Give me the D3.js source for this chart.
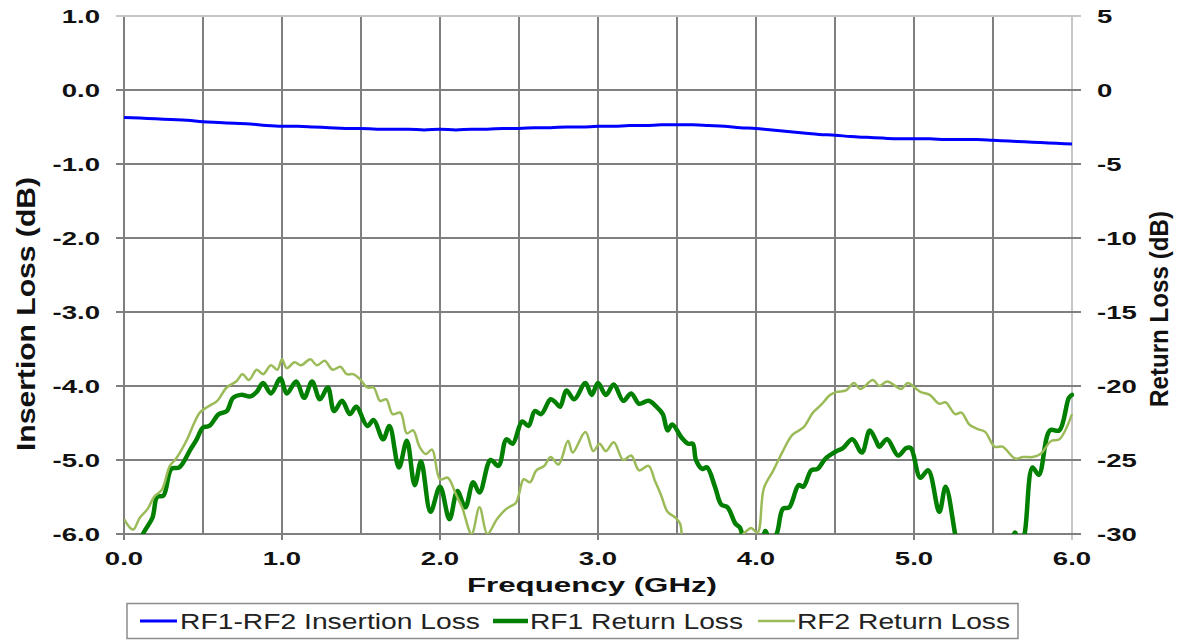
<!DOCTYPE html>
<html>
<head>
<meta charset="utf-8">
<script src="https://cdn.jsdelivr.net/npm/d3@7"></script>
<style>
  html, body { margin: 0; padding: 0; background: #fff; }
  svg { display: block; }
</style>
</head>
<body>
<svg id="chart" width="1193" height="641"></svg>
<script>
// ---------------- DATA ----------------
const leftTicks = [-6, -5, -4, -3, -2, -1, 0, 1];
const rightTicks = [-30, -25, -20, -15, -10, -5, 0, 5];
const xTicks = [0, 1, 2, 3, 4, 5, 6];
const xGrid = [0, 0.5, 1, 1.5, 2, 2.5, 3, 3.5, 4, 4.5, 5, 5.5, 6];

const seriesNames = ["RF1-RF2 Insertion Loss", "RF1 Return Loss", "RF2 Return Loss"];

// Insertion loss (left axis, dB), frequency in GHz
const ilFreq = [0.0,0.1,0.2,0.3,0.4,0.5,0.6,0.7,0.8,0.9,1.0,1.1,1.2,1.3,1.4,1.5,1.6,1.7,1.8,1.9,
  2.0,2.1,2.2,2.3,2.4,2.5,2.6,2.7,2.8,2.9,3.0,3.1,3.2,3.3,3.4,3.5,3.6,3.7,3.8,3.9,
  4.0,4.1,4.2,4.3,4.4,4.5,4.6,4.7,4.8,4.9,5.0,5.1,5.2,5.3,5.4,5.5,5.6,5.7,5.8,5.9,6.0];
const ilValues = [-0.37,-0.38,-0.39,-0.40,-0.41,-0.43,-0.44,-0.45,-0.46,-0.48,-0.49,-0.49,-0.50,-0.51,-0.52,-0.52,-0.53,-0.53,-0.53,-0.54,
  -0.53,-0.54,-0.53,-0.53,-0.52,-0.52,-0.51,-0.51,-0.50,-0.50,-0.49,-0.49,-0.48,-0.48,-0.47,-0.47,-0.47,-0.48,-0.49,-0.51,
  -0.52,-0.54,-0.56,-0.58,-0.60,-0.61,-0.63,-0.64,-0.65,-0.66,-0.66,-0.66,-0.67,-0.67,-0.67,-0.68,-0.69,-0.70,-0.71,-0.72,-0.73];

// RF1 return loss (right axis, dB): [GHz, dB]
const rf1Points = [
  [0.00,-33],[0.06,-32],[0.12,-30.0],[0.18,-28.9],[0.21,-27.5],[0.25,-27.4],[0.30,-25.6],[0.35,-25.5],
  [0.42,-24.3],[0.46,-23.6],[0.50,-22.8],[0.54,-22.7],[0.60,-21.9],[0.65,-21.7],[0.69,-20.8],[0.74,-20.6],
  [0.80,-20.7],[0.84,-20.4],[0.88,-19.8],[0.93,-20.5],[0.99,-19.5],[1.03,-20.5],[1.09,-19.7],[1.14,-20.8],
  [1.19,-19.7],[1.24,-20.9],[1.29,-20.1],[1.33,-21.7],[1.38,-21.0],[1.43,-21.9],[1.47,-21.4],[1.54,-22.7],
  [1.58,-22.3],[1.64,-23.6],[1.68,-22.7],[1.74,-25.5],[1.79,-23.7],[1.84,-26.7],[1.88,-25.1],[1.94,-28.5],
  [2.00,-26.8],[2.06,-29.0],[2.11,-27.1],[2.16,-28.2],[2.21,-26.5],[2.25,-27.2],[2.32,-25.0],[2.37,-25.4],
  [2.42,-23.6],[2.46,-23.9],[2.52,-22.4],[2.56,-22.7],[2.60,-21.7],[2.64,-21.9],[2.70,-20.9],[2.73,-21.1],
  [2.76,-21.4],[2.80,-20.3],[2.85,-20.9],[2.92,-19.8],[2.96,-20.6],[3.00,-19.8],[3.05,-20.6],[3.10,-19.9],
  [3.16,-21.0],[3.21,-20.5],[3.26,-21.2],[3.32,-21.0],[3.37,-21.4],[3.41,-21.9],[3.44,-23.0],[3.47,-22.6],
  [3.53,-23.5],[3.57,-23.9],[3.60,-23.9],[3.62,-25.0],[3.66,-25.6],[3.69,-25.5],[3.74,-26.8],[3.78,-28.0],
  [3.82,-28.2],[3.87,-29.3],[3.90,-29.6],[3.93,-31.0],[3.98,-32.0],[4.03,-31.0],[4.06,-29.8],[4.09,-30.5],
  [4.13,-30.0],[4.17,-28.3],[4.21,-28.2],[4.27,-26.7],[4.30,-26.8],[4.35,-25.7],[4.39,-25.6],[4.44,-24.9],
  [4.51,-24.4],[4.55,-24.2],[4.61,-23.6],[4.67,-24.5],[4.72,-23.0],[4.76,-23.7],[4.78,-24.1],[4.83,-23.6],
  [4.90,-24.7],[4.95,-24.2],[4.98,-24.2],[5.04,-26.2],[5.09,-25.7],[5.16,-28.5],[5.20,-26.8],[5.26,-30.0],
  [5.30,-32.5],[5.45,-34.0],[5.60,-31.5],[5.64,-29.9],[5.67,-31.0],[5.70,-30.0],[5.75,-25.5],[5.79,-26.0],
  [5.86,-23.0],[5.92,-23.0],[5.98,-20.8],[6.00,-20.6]
];

// RF2 return loss (right axis, dB): [GHz, dB]
const rf2Points = [
  [0.00,-29.0],[0.04,-29.6],[0.06,-29.7],[0.10,-28.9],[0.15,-28.3],[0.19,-27.5],[0.24,-27.0],[0.29,-25.4],
  [0.33,-24.9],[0.40,-23.6],[0.44,-22.6],[0.48,-21.8],[0.53,-21.4],[0.59,-21.0],[0.65,-20.1],[0.71,-19.7],
  [0.75,-19.2],[0.79,-19.6],[0.84,-18.9],[0.88,-19.2],[0.93,-18.6],[0.97,-18.9],[1.00,-18.2],[1.03,-18.8],
  [1.08,-18.4],[1.12,-18.6],[1.18,-18.2],[1.22,-18.6],[1.27,-18.3],[1.32,-18.9],[1.37,-18.7],[1.41,-19.2],
  [1.45,-19.2],[1.49,-19.5],[1.54,-20.1],[1.58,-20.1],[1.62,-21.0],[1.66,-20.9],[1.70,-21.9],[1.75,-21.8],
  [1.79,-23.2],[1.83,-23.0],[1.87,-24.1],[1.91,-24.6],[1.95,-24.3],[2.00,-26.3],[2.05,-26.2],[2.10,-27.3],
  [2.14,-28.2],[2.20,-30.0],[2.25,-28.2],[2.30,-30.0],[2.36,-29.0],[2.42,-28.3],[2.48,-27.9],[2.50,-27.3],
  [2.53,-26.3],[2.57,-26.5],[2.61,-25.7],[2.66,-25.4],[2.70,-24.8],[2.75,-25.3],[2.81,-23.7],[2.84,-24.5],
  [2.92,-23.1],[2.97,-24.4],[3.01,-23.9],[3.05,-24.4],[3.10,-23.8],[3.16,-25.0],[3.21,-24.7],[3.26,-25.7],
  [3.32,-25.4],[3.36,-26.4],[3.40,-27.4],[3.44,-28.5],[3.49,-28.9],[3.52,-29.3],[3.53,-30.0],[3.56,-31.5],
  [3.75,-33.0],[3.88,-31.0],[3.92,-30.0],[3.94,-29.8],[3.97,-29.6],[4.01,-29.9],[4.05,-26.9],[4.11,-25.7],
  [4.17,-24.4],[4.23,-23.3],[4.30,-22.8],[4.36,-21.8],[4.41,-21.3],[4.47,-20.6],[4.51,-20.4],[4.57,-20.3],
  [4.62,-19.8],[4.66,-20.2],[4.74,-19.6],[4.78,-20.0],[4.83,-19.7],[4.92,-20.2],[4.96,-19.8],[5.04,-20.4],
  [5.10,-20.6],[5.16,-21.2],[5.20,-21.1],[5.26,-21.9],[5.30,-21.8],[5.35,-22.6],[5.40,-22.9],[5.45,-23.1],
  [5.51,-24.1],[5.56,-24.1],[5.64,-24.9],[5.69,-24.8],[5.75,-24.8],[5.80,-24.6],[5.87,-23.7],[5.92,-23.6],
  [6.00,-21.9]
];

// ---------------- CHART ----------------
const FONT = "Arial, 'Liberation Sans', Helvetica, sans-serif";
const colors = { il: "#0000ff", rf1: "#007f00", rf2: "#9bbb59", grid: "#7f7f7f", lightGrid: "#c6c6c6" };

const svg = d3.select("#chart");
const plot = { left: 124, right: 1072, top: 16, bottom: 534 };

const x = d3.scaleLinear().domain([0, 6]).range([plot.left, plot.right]);
const yL = d3.scaleLinear().domain([-6, 1]).range([plot.bottom, plot.top]);
const yR = d3.scaleLinear().domain([-30, 5]).range([plot.bottom, plot.top]);

svg.append("rect").attr("width", 1193).attr("height", 641).attr("fill", "#fff");

// Grid: vertical lines
const gGrid = svg.append("g");
gGrid.selectAll("line.v").data(xGrid).join("line")
  .attr("x1", d => x(d)).attr("x2", d => x(d))
  .attr("y1", plot.top)
  .attr("y2", d => Number.isInteger(d) ? plot.bottom + 6 : plot.bottom)
  .attr("stroke", d => d === 6 ? colors.lightGrid : colors.grid)
  .attr("stroke-width", 2);

// Grid: horizontal lines (with outward ticks both sides)
gGrid.selectAll("line.h").data(leftTicks).join("line")
  .attr("x1", plot.left - 8).attr("x2", plot.right + 9)
  .attr("y1", d => yL(d)).attr("y2", d => yL(d))
  .attr("stroke", d => d === 1 ? colors.lightGrid : colors.grid)
  .attr("stroke-width", 2);

// Axes labels via scales
const fmtL = d => d.toFixed(1);
const TICK_FS = 19, TICK_SX = 1.45;

const gLeft = svg.append("g");
gLeft.selectAll("text").data(leftTicks).join("text")
  .attr("transform", d => `translate(${plot.left - 24},${yL(d) + 7}) scale(${TICK_SX},1)`)
  .attr("text-anchor", "end")
  .attr("font-family", FONT).attr("font-weight", "bold").attr("font-size", TICK_FS)
  .attr("fill", "#111")
  .text(fmtL);

const gRight = svg.append("g");
gRight.selectAll("text").data(rightTicks).join("text")
  .attr("transform", d => `translate(${plot.right + 25},${yR(d) + 7}) scale(${TICK_SX},1)`)
  .attr("text-anchor", "start")
  .attr("font-family", FONT).attr("font-weight", "bold").attr("font-size", TICK_FS)
  .attr("fill", "#111")
  .text(d => String(d));

const gBottom = svg.append("g");
gBottom.selectAll("text").data(xTicks).join("text")
  .attr("transform", d => `translate(${x(d)},${plot.bottom + 31}) scale(${TICK_SX},1)`)
  .attr("text-anchor", "middle")
  .attr("font-family", FONT).attr("font-weight", "bold").attr("font-size", TICK_FS)
  .attr("fill", "#111")
  .text(fmtL);

// Axis titles
svg.append("text")
  .attr("x", 592).attr("y", 592)
  .attr("text-anchor", "middle")
  .attr("font-family", FONT).attr("font-weight", "bold").attr("font-size", 20)
  .attr("textLength", 250).attr("lengthAdjust", "spacingAndGlyphs")
  .attr("fill", "#111")
  .text("Frequency (GHz)");

svg.append("text")
  .attr("transform", "translate(35,314) rotate(-90)")
  .attr("text-anchor", "middle")
  .attr("font-family", FONT).attr("font-weight", "bold").attr("font-size", 25)
  .attr("textLength", 274).attr("lengthAdjust", "spacingAndGlyphs")
  .attr("fill", "#111")
  .text("Insertion Loss (dB)");

svg.append("text")
  .attr("transform", "translate(1168,309) rotate(-90)")
  .attr("text-anchor", "middle")
  .attr("font-family", FONT).attr("font-weight", "bold").attr("font-size", 25)
  .attr("textLength", 196).attr("lengthAdjust", "spacingAndGlyphs")
  .attr("fill", "#111")
  .text("Return Loss (dB)");

// Clip
svg.append("clipPath").attr("id", "plotclip")
  .append("rect")
  .attr("x", plot.left).attr("y", plot.top - 2)
  .attr("width", plot.right - plot.left + 2).attr("height", plot.bottom - plot.top + 2);

const gLines = svg.append("g").attr("clip-path", "url(#plotclip)");

const lineL = d3.line().x((d, i) => x(ilFreq[i])).y(d => yL(d)).curve(d3.curveMonotoneX);
const lineR = d3.line().x(d => x(d[0])).y(d => yR(d[1])).curve(d3.curveCatmullRom.alpha(0.5));

gLines.append("path").datum(ilValues)
  .attr("d", lineL).attr("fill", "none")
  .attr("stroke", colors.il).attr("stroke-width", 3).attr("stroke-linejoin", "round");

gLines.append("path").datum(rf1Points)
  .attr("d", lineR).attr("fill", "none")
  .attr("stroke", colors.rf1).attr("stroke-width", 4.5).attr("stroke-linejoin", "round").attr("stroke-linecap", "round");

gLines.append("path").datum(rf2Points)
  .attr("d", lineR).attr("fill", "none")
  .attr("stroke", colors.rf2).attr("stroke-width", 2.5).attr("stroke-linejoin", "round");

// Legend
const legend = svg.append("g");
legend.append("rect")
  .attr("x", 127).attr("y", 603.5).attr("width", 891).attr("height", 35)
  .attr("fill", "#fff").attr("stroke", "#8c8c8c").attr("stroke-width", 1.5);

const legendItems = [
  { name: seriesNames[0], color: colors.il, width: 3, x1: 140, x2: 177, tx: 180, tl: 300 },
  { name: seriesNames[1], color: colors.rf1, width: 4.5, x1: 493, x2: 528, tx: 530, tl: 213 },
  { name: seriesNames[2], color: colors.rf2, width: 2.5, x1: 758, x2: 795, tx: 797, tl: 213 }
];
const li = legend.selectAll("g").data(legendItems).join("g");
li.append("line")
  .attr("x1", d => d.x1).attr("x2", d => d.x2).attr("y1", 621).attr("y2", 621)
  .attr("stroke", d => d.color).attr("stroke-width", d => d.width);
li.append("text")
  .attr("x", d => d.tx).attr("y", 629)
  .attr("font-family", FONT).attr("font-size", 22).attr("fill", "#222")
  .attr("textLength", d => d.tl).attr("lengthAdjust", "spacingAndGlyphs")
  .text(d => d.name);
</script>
</body>
</html>
